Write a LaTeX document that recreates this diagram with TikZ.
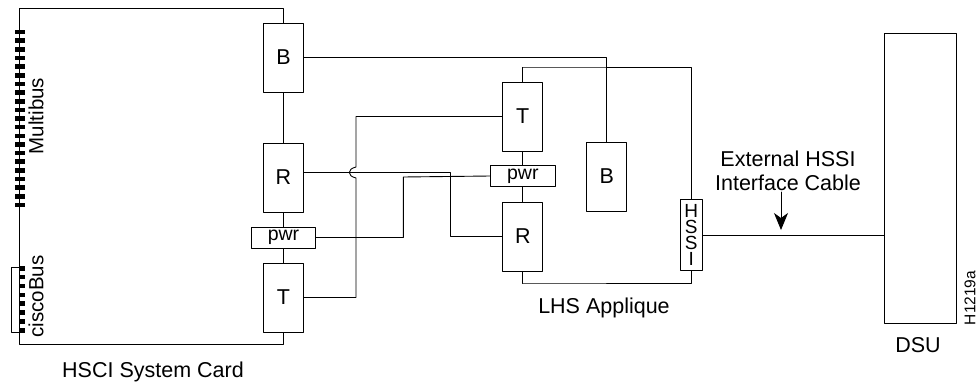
\documentclass[tikz,border=0pt]{standalone}
\usepackage{fontspec}
\setmainfont{Liberation Sans}
\usetikzlibrary{arrows.meta}

\begin{document}
\begin{tikzpicture}[line cap=round,line join=round,x=1pt,y=-1pt,line width=.9pt,
  lbl/.style={font=\fontsize{21.5}{24}\selectfont,inner sep=0pt},
  sidelbl/.style={font=\fontsize{20.5}{24}\selectfont,inner sep=0pt,rotate=90},
  unit/.style={draw,fill=white,lbl,minimum width=40pt,minimum height=69pt},
  pwrbox/.style={draw,fill=white,inner sep=0pt,font=\fontsize{19.5}{22}\selectfont,minimum width=64.5pt,minimum height=21pt},
  pin/.style={line width=4.6pt,line cap=butt}]
\useasboundingbox (0,0) rectangle (977,383);
\node[unit] (bsys) at (283.5,57.5) {B};
\node[unit] (rsys) at (283.5,177.5) {R};
\node[pwrbox] (psys) at (283.5,237.5) {pwr};
\node[unit] (tsys) at (283.5,297.5) {T};
\node[unit] (tapp) at (522.8,116.5) {T};
\node[pwrbox] (papp) at (522.8,176) {pwr};
\node[unit] (rapp) at (522.8,236.5) {R};
\node[unit] (bapp) at (606.8,176.5) {B};
\node[draw,fill=white,inner sep=0pt,minimum width=21.5pt,minimum height=71pt,align=center,font=\fontsize{19}{15.8}\selectfont] (hssi) at (691.3,235) {H\\S\\S\\I};
\node[draw,fill=white,minimum width=72.5pt,minimum height=290pt] (dsu) at (920.6,178) {};
\coordinate (cardtl) at (19,8);
\coordinate (cardbl) at (19,344);
\coordinate (jumplow) at (356,178);
\coordinate (jumphigh) at (356,167);
\coordinate (lowbend) at (403.3,177);
\coordinate (midbend) at (450.6,172.5);
\coordinate (topbend) at (523,67);
\coordinate (lowapp) at (523,283);
\coordinate (arrowtop) at (781,192);
\coordinate (arrowend) at (781,230);
\draw (bsys.north) |- (cardtl) -- (cardbl) -| (tsys.south);
\draw (bsys.south) -- (rsys.north);
\draw (rsys.south) -- (psys.north);
\draw (psys.south) -- (tsys.north);
\draw (tapp.south) -- (papp.north);
\draw (papp.south) -- (rapp.north);
\draw (bsys.east) -| (bapp.north);
\draw (tsys.east) -| (jumplow) .. controls (347,176) and (347,169) .. (jumphigh) |- (tapp.west);
\draw ([yshift=5pt]rsys.east) -- (midbend) |- (rapp.west);
\draw (psys.east) -| (lowbend) -- (papp.west);
\draw (tapp.north) |- (topbend) -| (hssi.north);
\draw (rapp.south) |- (lowapp) -| (hssi.south);
\draw (hssi.east) -- (hssi.east -| dsu.west);
\draw[-{Stealth[length=17pt,width=14pt,inset=5pt]}] (arrowtop) -- (arrowend);
\draw (19,267) -- (11.5,267) -- (11.5,332) -- (19,332);
\foreach \y in {0,...,20}
\draw[pin] (15,32+8.65*\y) -- (25,32+8.65*\y);
\foreach \y in {0,...,7}
\draw[pin] (19,268.3+8.85*\y) -- (25,268.3+8.85*\y);
\node[sidelbl] (multibus) at (36,116) {Multibus};
\node[sidelbl] (ciscobus) at (36,296.5) {ciscoBus};
\node[lbl] (hsci) at (153,372) {HSCI System Card};
\node[lbl] (lhs) at (604,308) {LHS Applique};
\node[lbl] (dsulabel) at (918,345) {DSU};
\node[lbl,align=center] (cable) at (788,171) {External HSSI\\Interface Cable};
\node[inner sep=0pt,rotate=90,font=\fontsize{15.5}{18}\selectfont] (hnum) at (970,298) {H1219a};
\end{tikzpicture}
\end{document}
